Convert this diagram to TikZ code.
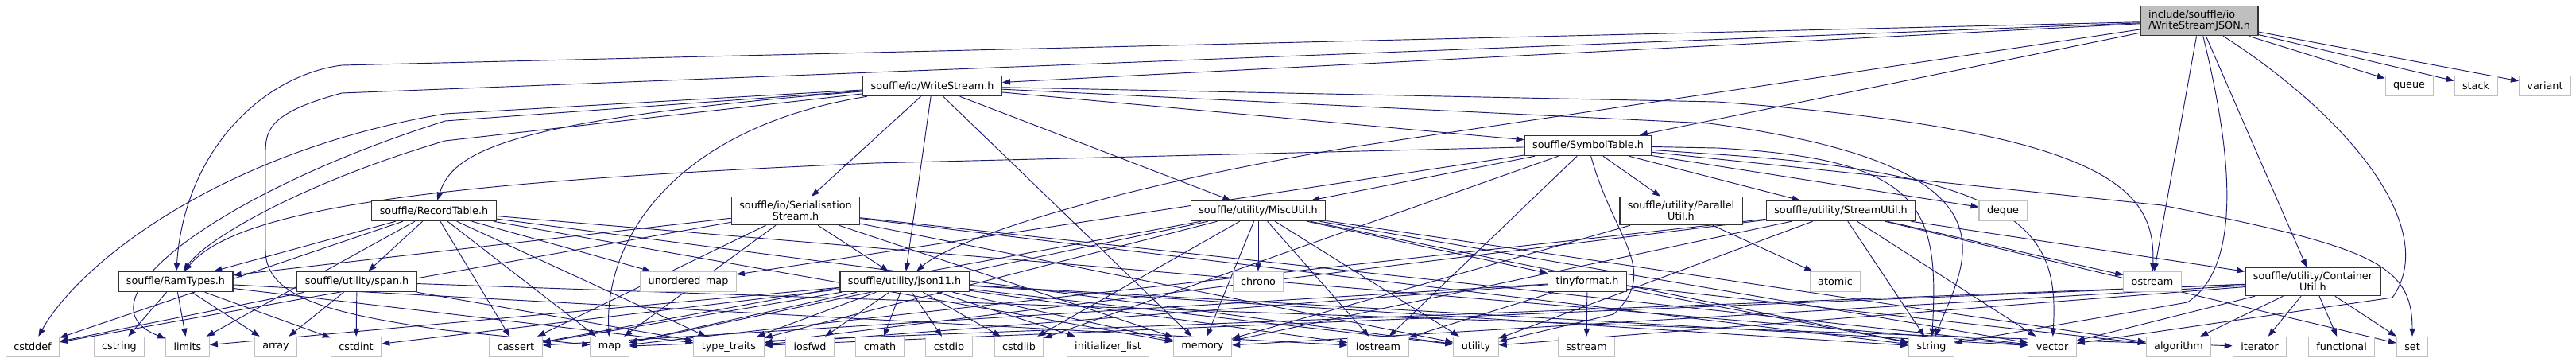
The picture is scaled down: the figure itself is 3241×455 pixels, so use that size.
\documentclass[tikz,border=0pt]{standalone}
\usepackage{fontspec}
\setmainfont{DejaVu Sans}
\usetikzlibrary{arrows.meta,backgrounds}

\definecolor{edgeblue}{RGB}{25,25,112}
\definecolor{hdrline}{RGB}{50,50,50}
\definecolor{sysline}{RGB}{191,191,191}
\definecolor{rootfill}{RGB}{191,191,191}

\tikzset{
  box/.style={rectangle, fill=white, font=\fontsize{10.9}{12}\selectfont,
    inner xsep=0.3cm, inner ysep=0.17cm, minimum height=0.76cm, align=center},
  hdr/.style={box, draw=hdrline, line width=1pt},
  sysinc/.style={box, draw=sysline, line width=0.9pt},
  rootfile/.style={box, draw=hdrline, fill=rootfill, line width=1pt, align=left},
  dep/.style={draw=edgeblue, line width=0.8pt, -{Triangle[length=0.3cm,width=0.22cm]}},
}

\begin{document}
\begin{tikzpicture}[x=0.03cm,y=-0.03cm]
  \useasboundingbox (0,0) rectangle (3241,455);

  % headers of the project
  \node[rootfile] (root) at (2767,26) {include/souffle/io\\/WriteStreamJSON.h};
  \node[hdr] (wstream) at (1173,108) {souffle/io/WriteStream.h};
  \node[hdr] (symtab) at (1998,183) {souffle/SymbolTable.h};
  \node[hdr] (rectab) at (546,265) {souffle/RecordTable.h};
  \node[hdr] (serial) at (1001,265) {souffle/io/Serialisation\\Stream.h};
  \node[hdr] (misc) at (1583,265) {souffle/utility/MiscUtil.h};
  \node[hdr] (parutil) at (2115,265) {souffle/utility/Parallel\\Util.h};
  \node[hdr] (streamutil) at (2316,265) {souffle/utility/StreamUtil.h};
  \node[hdr] (ramtypes) at (221,354) {souffle/RamTypes.h};
  \node[hdr] (span) at (449,354) {souffle/utility/span.h};
  \node[hdr] (json) at (1138,354) {souffle/utility/json11.h};
  \node[hdr] (tinyfmt) at (1997,354) {tinyformat.h};
  \node[hdr] (contutil) at (2910,354) {souffle/utility/Container\\Util.h};

  % system headers
  \node[sysinc] (queue) at (3031,108) {queue};
  \node[sysinc] (stack) at (3115,108) {stack};
  \node[sysinc] (variant) at (3202,108) {variant};
  \node[sysinc] (deque) at (2520,265) {deque};
  \node[sysinc] (umap) at (866,354) {unordered\_map};
  \node[sysinc] (chrono) at (1583,354) {chrono};
  \node[sysinc] (atomic) at (2309,354) {atomic};
  \node[sysinc] (ostream) at (2708,354) {ostream};
  \foreach \nm/\xx/\lbl in {cstddef/41/cstddef, cstring/150/cstring, limits/236/limits,
      array/347/array, cstdint/448/cstdint, cassert/649/cassert, map/767/map,
      typetraits/917/type\_traits, iosfwd/1019/iosfwd, cmath/1107/cmath,
      cstdio/1194/cstdio, cstdlib/1282/cstdlib, initlist/1394/initializer\_list,
      memory/1513/memory, iostream/1734/iostream, utility/1857/utility,
      sstream/1996/sstream, string/2430/string, vector/2582/vector,
      algorithm/2741/algorithm, iterator/2843/iterator, functional/2946/functional,
      set/3035/set}
    \node[sysinc] (\nm) at (\xx,436) {\lbl};

  \begin{scope}[on background layer]
    % WriteStreamJSON.h
    \foreach \dst in {wstream,symtab,contutil,ostream,queue,stack,variant}
      \draw[dep] (root) -- (\dst);
    \draw[dep] (root) -- (430,82) .. controls (330,95) and (232,190) .. (ramtypes);
    \draw[dep] (root) -- (430,117) .. controls (345,140) and (334,160) .. (334,190)
      -- (334,315) .. controls (334,375) and (420,395) .. (560,415) -- (map);
    \draw[dep] (root) -- (1700,185) .. controls (1400,235) and (1200,300) .. (json);
    \draw[dep] (root) .. controls (2800,160) and (2830,330) .. (2752,380) -- (string);
    \draw[dep] (root) .. controls (2960,150) and (3070,290) .. (3010,374) -- (vector);

    % WriteStream.h
    \foreach \dst in {serial,json,misc,memory,symtab}
      \draw[dep] (wstream) -- (\dst);
    \draw[dep] (wstream) .. controls (640,150) and (570,190) .. (rectab);
    \draw[dep] (wstream) .. controls (850,160) and (760,300) .. (map);
    \draw[dep] (wstream) -- (560,143) .. controls (280,190) and (100,330) .. (cstddef);
    \draw[dep] (wstream) -- (560,152) .. controls (280,240) and (90,380) .. (limits);
    \draw[dep] (wstream) -- (560,177) .. controls (380,230) and (260,300) .. (ramtypes);
    \draw[dep] (wstream) -- (2160,128) .. controls (2660,165) and (2712,240) .. (ostream);
    \draw[dep] (wstream) -- (2150,155) .. controls (2560,210) and (2470,330) .. (string);

    % SymbolTable.h
    \foreach \dst in {misc,parutil,streamutil,deque,umap,cstdlib,iostream}
      \draw[dep] (symtab) -- (\dst);
    \draw[dep] (symtab) -- (1100,205) .. controls (560,228) and (300,260) .. (ramtypes);
    \draw[dep] (symtab) .. controls (2030,300) and (2090,340) .. (2030,395) -- (utility);
    \draw[dep] (symtab) -- (2160,186) .. controls (2420,200) and (2440,260) .. (string);
    \draw[dep] (symtab) -- (2160,194) .. controls (2560,220) and (2590,300) .. (vector);
    \draw[dep] (symtab) -- (2720,258) .. controls (2980,310) and (3035,330) .. (set);

    % RecordTable.h
    \foreach \dst in {ramtypes,span,cassert,umap,cstddef,limits,map,memory,utility,vector,typetraits}
      \draw[dep] (rectab) -- (\dst);

    % SerialisationStream.h
    \foreach \dst in {json,ramtypes,cassert,map,cstddef,memory,string,utility,vector}
      \draw[dep] (serial) -- (\dst);

    % MiscUtil.h
    \foreach \dst in {tinyfmt,chrono,cstdlib,iostream,memory,utility,map,cassert,typetraits,string,vector,algorithm}
      \draw[dep] (misc) -- (\dst);

    % ParallelUtil.h
    \foreach \dst in {atomic,memory}
      \draw[dep] (parutil) -- (\dst);

    % StreamUtil.h
    \foreach \dst in {contutil,ostream,string,vector,set,map,memory,utility,typetraits}
      \draw[dep] (streamutil) -- (\dst);

    % ContainerUtil.h
    \foreach \dst in {algorithm,iterator,functional,set,vector,map,memory,typetraits,utility}
      \draw[dep] (contutil) -- (\dst);

    % tinyformat.h
    \foreach \dst in {sstream,iostream,cassert,typetraits,string,algorithm}
      \draw[dep] (tinyfmt) -- (\dst);

    % json11.h
    \foreach \dst in {cmath,cstdio,cstdlib,initlist,memory,iosfwd,typetraits,map,cassert,limits,cstdint,string,vector,utility,iostream}
      \draw[dep] (json) -- (\dst);

    % RamTypes.h
    \foreach \dst in {cstring,limits,array,cstdint,typetraits,iostream}
      \draw[dep] (ramtypes) -- (\dst);

    % span.h
    \foreach \dst in {cstddef,array,cstdint,typetraits,iterator}
      \draw[dep] (span) -- (\dst);
  \end{scope}
\end{tikzpicture}
\end{document}
